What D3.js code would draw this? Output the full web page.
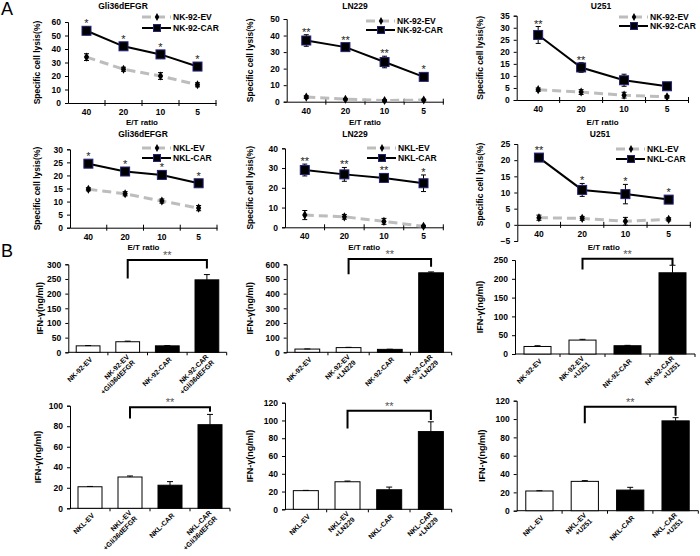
<!DOCTYPE html>
<html>
<head>
<meta charset="utf-8">
<script src="https://cdn.jsdelivr.net/npm/d3@7"></script>
<style>
body { margin: 0; background: #fff; }
text { font-family: "Liberation Sans", Arial, sans-serif; }
</style>
</head>
<body>
<div id="chart"></div>
<script>
// ---------------------- data : cytotoxicity (A) ----------------------
var ratios = ["40", "20", "10", "5"];

var gliNk92Ev = [34, 25, 20, 13.5],      gliNk92EvErr = [2.5, 1.5, 2.5, 1.5];
var gliNk92Car = [53.5, 42, 36, 27],     gliNk92CarErr = [3, 2, 2, 2];
var lnNk92Ev = [2.8, 1.5, 0.7, 1],       lnNk92EvErr = [0.8, 0.5, 0.5, 0.5];
var lnNk92Car = [37, 33, 24, 15],        lnNk92CarErr = [3.5, 1.5, 3.5, 1.5];
var uNk92Ev = [4.3, 3.3, 2, 1.3],        uNk92EvErr = [0.7, 1, 1.2, 0.5];
var uNk92Car = [27, 13.5, 8.2, 5.7],     uNk92CarErr = [3.5, 2, 2.5, 1];

var gliNklEv = [14.7, 13, 10.2, 7.5],    gliNklEvErr = [0.6, 0.8, 0.8, 1];
var gliNklCar = [24.5, 21.5, 20.2, 17],  gliNklCarErr = [1, 0.8, 1.5, 0.8];
var lnNklEv = [6.2, 5.3, 3, 0.5],        lnNklEvErr = [2.3, 1.2, 1.5, 0.5];
var lnNklCar = [29, 26.8, 25, 22.3],     lnNklCarErr = [3, 3.5, 2, 4.2];
var uNklEv = [2.2, 2, 1.1, 1.7],         uNklEvErr = [0.8, 0.6, 1.2, 0.5];
var uNklCar = [20.8, 10.8, 9.5, 7.8],    uNklCarErr = [0.5, 2, 3, 0.5];

var gliStars = ["*", "*", "*", "*"];
var lnStars = ["**", "**", "**", "*"];
var uNk92Stars = ["**", "**", "", ""];
var uNklStars = ["**", "*", "*", "*"];

// ---------------------- data : IFN-gamma (B) ----------------------
var nk92Gli = [22, 36, 22, 247],        nk92GliErr = [1, 2, 1, 18];
var nk92Ln = [22, 32, 20, 542],         nk92LnErr = [1, 2, 1, 6];
var nk92U = [20, 37, 22, 216],          nk92UErr = [2, 2, 1, 20];
var nklGli = [21, 30.5, 22.5, 81.5],    nklGliErr = [0.3, 1, 3.5, 10];
var nklLn = [21, 31, 22, 87.5],         nklLnErr = [0.3, 0.8, 3, 11];
var nklU = [21.5, 32, 22.5, 98],        nklUErr = [0.3, 0.8, 3, 3.5];

var nk92GliLabels = ["NK-92-EV", "NK-92-EV\n+Gli36dEFGR", "NK-92-CAR", "NK-92-CAR\n+Gli36dEFGR"];
var nk92LnLabels = ["NK-92-EV", "NK-92-EV\n+LN229", "NK-92-CAR", "NK-92-CAR\n+LN229"];
var nk92ULabels = ["NK-92-EV", "NK-92-EV\n+U251", "NK-92-CAR", "NK-92-CAR\n+U251"];
var nklGliLabels = ["NKL-EV", "NKL-EV\n+Gli36dEFGR", "NKL-CAR", "NKL-CAR\n+Gli36dEFGR"];
var nklLnLabels = ["NKL-EV", "NKL-EV\n+LN229", "NKL-CAR", "NKL-CAR\n+LN229"];
var nklULabels = ["NKL-EV", "NKL-EV\n+U251", "NKL-CAR", "NKL-CAR\n+U251"];

// bracket: [top, left leg end, right leg end] in data units
var nk92GliBracket = [315, 252, 286];
var nk92LnBracket = [636, 532, 584];
var nk92UBracket = [253, 225, 237];
var nklGliBracket = [98.4, 87.6, 94];
var nklLnBracket = [111, 91, 100.4];
var nklUBracket = [113.5, 95.3, 103.6];

// ---------------------- svg ----------------------
var svg = d3.select("#chart")
     .append("svg")
     .attr("width", 700)
     .attr("height", 556);

svg.append("rect").attr("width", 700).attr("height", 556).attr("fill", "#fff");

function styleAxis(a, fs) {
  a.select(".domain").attr("stroke", "#000").attr("stroke-width", 1);
  a.selectAll(".tick line").attr("stroke", "#000").attr("stroke-width", 1);
  a.selectAll(".tick text")
     .attr("fill", "#000")
     .style("font-size", fs + "px")
     .style("font-weight", "bold");
}

// ---------------------- line panels ----------------------
var linePanels = [
  {x0: 68, x1: 216, yTop: 22, yBot: 103, domain: [0, 60], step: 10, title: "Gli36dEFGR", tx: 123, ty: 9,
   ev: gliNk92Ev, evErr: gliNk92EvErr, car: gliNk92Car, carErr: gliNk92CarErr, stars: gliStars,
   legX: 173, legY: [17, 28], names: ["NK-92-EV", "NK-92-CAR"], etY: 125, ylabX: 37},
  {x0: 286.7, x1: 443.3, yTop: 19, yBot: 101.7, domain: [0, 50], step: 10, title: "LN229", tx: 355, ty: 9,
   ev: lnNk92Ev, evErr: lnNk92EvErr, car: lnNk92Car, carErr: lnNk92CarErr, stars: lnStars,
   legX: 397, legY: [21, 30], names: ["NK-92-EV", "NK-92-CAR"], etY: 125, ylabX: 250},
  {x0: 516.7, x1: 688.5, yTop: 15.7, yBot: 100, domain: [0, 35], step: 5, title: "U251", tx: 601, ty: 9,
   ev: uNk92Ev, evErr: uNk92EvErr, car: uNk92Car, carErr: uNk92CarErr, stars: uNk92Stars,
   legX: 650, legY: [17, 26], names: ["NK-92-EV", "NK-92-CAR"], etY: 125, ylabX: 480},
  {x0: 70, x1: 217, yTop: 149.3, yBot: 227.7, domain: [0, 30], step: 5, title: "Gli36dEFGR", tx: 143, ty: 136.5,
   ev: gliNklEv, evErr: gliNklEvErr, car: gliNklCar, carErr: gliNklCarErr, stars: gliStars,
   legX: 173, legY: [148, 158], names: ["NKL-EV", "NKL-CAR"], etY: 250, ylabX: 37},
  {x0: 285, x1: 443.3, yTop: 148.3, yBot: 227.3, domain: [0, 40], step: 10, title: "LN229", tx: 355, ty: 136.5,
   ev: lnNklEv, evErr: lnNklEvErr, car: lnNklCar, carErr: lnNklCarErr, stars: lnStars,
   legX: 398, legY: [148, 158], names: ["NKL-EV", "NKL-CAR"], etY: 250, ylabX: 250},
  {x0: 517.3, x1: 690.3, yTop: 144, yBot: 241, domain: [-5, 25], step: 5, title: "U251", tx: 600, ty: 136.5,
   ev: uNklEv, evErr: uNklEvErr, car: uNklCar, carErr: uNklCarErr, stars: uNklStars,
   legX: 647, legY: [149, 159], names: ["NKL-EV", "NKL-CAR"], etY: 250, ylabX: 480}
];

function errorBars(g, vals, errs, cx, y, cap) {
  g.selectAll(null).data(vals).enter().append("path")
     .attr("d", function (d, i) {
       var a = y(d - errs[i]), b = y(d + errs[i]), c = cx(i);
       return "M" + c + "," + a + "V" + b +
              "M" + (c - cap) + "," + a + "H" + (c + cap) +
              "M" + (c - cap) + "," + b + "H" + (c + cap);
     })
     .attr("stroke", "#000").attr("stroke-width", 1).attr("fill", "none");
}

function drawLinePanel(p) {
  var x = d3.scaleBand().domain(ratios).range([p.x0, p.x1]);
  var y = d3.scaleLinear().domain(p.domain).range([p.yBot, p.yTop]);
  var cx = function (i) { return x(ratios[i]) + x.bandwidth() / 2; };
  var g = svg.append("g");

  var ya = g.append("g")
     .attr("transform", "translate(" + p.x0 + ",0)")
     .call(d3.axisLeft(y)
       .tickValues(d3.range(p.domain[0], p.domain[1] + 0.01, p.step))
       .tickSize(3).tickPadding(4));
  styleAxis(ya, 8.5);

  var xa = g.append("g")
     .attr("transform", "translate(0," + y(0) + ")")
     .call(d3.axisBottom(x).tickSize(0).tickPadding(6));
  styleAxis(xa, 8.5);
  xa.selectAll(".edge").data(ratios).enter().append("line")
     .attr("x1", function (d) { return x(d) + x.bandwidth(); })
     .attr("x2", function (d) { return x(d) + x.bandwidth(); })
     .attr("y1", -3).attr("y2", 3)
     .attr("stroke", "#000");

  // titles
  g.append("text").text(p.title)
     .attr("x", p.tx).attr("y", p.ty)
     .attr("text-anchor", "middle")
     .style("font-size", "8.5px").style("font-weight", "bold");
  g.append("text").text("E/T ratio")
     .attr("x", (p.x0 + p.x1) / 2).attr("y", p.etY)
     .attr("text-anchor", "middle")
     .style("font-size", "8px").style("font-weight", "bold");
  g.append("text").text("Specific cell lysis(%)")
     .attr("transform", "translate(" + p.ylabX + "," + ((p.yTop + y(0)) / 2) + ") rotate(-90)")
     .attr("dy", "0.35em")
     .attr("text-anchor", "middle")
     .style("font-size", "8.5px").style("font-weight", "bold");

  var line = d3.line().x(function (d, i) { return cx(i); }).y(function (d) { return y(d); });

  // EV series
  g.append("path").datum(p.ev).attr("d", line)
     .attr("fill", "none").attr("stroke", "#bdbdbd")
     .attr("stroke-width", 3).attr("stroke-dasharray", "9,5");
  errorBars(g, p.ev, p.evErr, cx, y, 2.5);
  g.selectAll(null).data(p.ev).enter().append("path")
     .attr("d", d3.symbol(d3.symbolDiamond, 24))
     .attr("transform", function (d, i) { return "translate(" + cx(i) + "," + y(d) + ")"; })
     .attr("fill", "#000");

  // CAR series
  g.append("path").datum(p.car).attr("d", line)
     .attr("fill", "none").attr("stroke", "#000").attr("stroke-width", 2);
  errorBars(g, p.car, p.carErr, cx, y, 2.5);
  g.selectAll(null).data(p.car).enter().append("rect")
     .attr("x", function (d, i) { return cx(i) - 4.5; })
     .attr("y", function (d) { return y(d) - 4.5; })
     .attr("width", 9).attr("height", 9)
     .attr("fill", "#000").attr("stroke", "#23237a").attr("stroke-width", 1);

  // significance
  g.selectAll(null).data(p.stars).enter().append("text")
     .text(function (d) { return d; })
     .attr("x", function (d, i) { return cx(i); })
     .attr("y", function (d, i) {
       return Math.min(y(p.car[i] + p.carErr[i]), y(p.car[i]) - 4.5) + 1;
     })
     .attr("text-anchor", "middle")
     .style("font-size", "11px").attr("fill", "#222");

  // legend
  var lx = p.legX;
  [0, 1].forEach(function (k) {
    var ly = p.legY[k];
    g.append("line")
       .attr("x1", lx - 31).attr("x2", lx - 2).attr("y1", ly).attr("y2", ly)
       .attr("stroke", k === 0 ? "#bdbdbd" : "#000")
       .attr("stroke-width", k === 0 ? 3 : 2)
       .attr("stroke-dasharray", k === 0 ? "9,5" : null);
    if (k === 0) {
      g.append("path").attr("d", d3.symbol(d3.symbolDiamond, 18))
         .attr("transform", "translate(" + (lx - 16) + "," + ly + ")").attr("fill", "#000");
    } else {
      g.append("rect").attr("x", lx - 19.5).attr("y", ly - 3.5).attr("width", 7).attr("height", 7)
         .attr("fill", "#000").attr("stroke", "#23237a");
    }
    g.append("text").text(p.names[k])
       .attr("x", lx).attr("y", ly + 3)
       .style("font-size", "8.5px").style("font-weight", "bold");
  });
}

linePanels.forEach(drawLinePanel);

// ---------------------- bar panels ----------------------
var barPanels = [
  {x0: 68.3, x1: 226.7, yTop: 264.3, yBot: 352.3, domain: [0, 300], step: 50, vals: nk92Gli, errs: nk92GliErr,
   labels: nk92GliLabels, bracket: nk92GliBracket, ylabX: 40},
  {x0: 286.7, x1: 451.7, yTop: 264.3, yBot: 352.3, domain: [0, 600], step: 100, vals: nk92Ln, errs: nk92LnErr,
   labels: nk92LnLabels, bracket: nk92LnBracket, ylabX: 250},
  {x0: 515, x1: 695, yTop: 260, yBot: 354, domain: [0, 250], step: 50, vals: nk92U, errs: nk92UErr,
   labels: nk92ULabels, bracket: nk92UBracket, ylabX: 480},
  {x0: 70, x1: 230, yTop: 405.7, yBot: 508.3, domain: [0, 100], step: 20, vals: nklGli, errs: nklGliErr,
   labels: nklGliLabels, bracket: nklGliBracket, ylabX: 38},
  {x0: 285, x1: 451.7, yTop: 402.7, yBot: 509.3, domain: [0, 120], step: 20, vals: nklLn, errs: nklLnErr,
   labels: nklLnLabels, bracket: nklLnBracket, ylabX: 250},
  {x0: 516.7, x1: 698.3, yTop: 400.7, yBot: 510.7, domain: [0, 120], step: 20, vals: nklU, errs: nklUErr,
   labels: nklULabels, bracket: nklUBracket, ylabX: 482}
];

function drawBarPanel(p) {
  var idx = d3.range(p.vals.length);
  var x = d3.scaleBand().domain(idx).range([p.x0, p.x1]);
  var y = d3.scaleLinear().domain(p.domain).range([p.yBot, p.yTop]);
  var cx = function (i) { return x(i) + x.bandwidth() / 2; };
  var bw = x.bandwidth() * 0.6;
  var g = svg.append("g");

  var ya = g.append("g")
     .attr("transform", "translate(" + p.x0 + ",0)")
     .call(d3.axisLeft(y)
       .tickValues(d3.range(p.domain[0], p.domain[1] + 0.01, p.step))
       .tickSize(3).tickPadding(4));
  styleAxis(ya, 8.5);

  g.append("line")
     .attr("x1", p.x0).attr("x2", p.x1).attr("y1", y(0)).attr("y2", y(0))
     .attr("stroke", "#000");
  g.selectAll(null).data(idx).enter().append("line")
     .attr("x1", function (i) { return x(i) + x.bandwidth(); })
     .attr("x2", function (i) { return x(i) + x.bandwidth(); })
     .attr("y1", y(0)).attr("y2", y(0) + 3)
     .attr("stroke", "#000");

  g.selectAll(null).data(p.vals).enter().append("rect")
     .attr("x", function (d, i) { return cx(i) - bw / 2; })
     .attr("y", function (d) { return y(d); })
     .attr("width", bw)
     .attr("height", function (d) { return y(0) - y(d); })
     .attr("fill", function (d, i) { return i < 2 ? "#fff" : "#000"; })
     .attr("stroke", "#000").attr("stroke-width", 1);

  // error bars (upper only)
  g.selectAll(null).data(p.vals).enter().append("path")
     .attr("d", function (d, i) {
       var a = y(d), b = y(d + p.errs[i]), c = cx(i);
       return "M" + c + "," + a + "V" + b + "M" + (c - 3) + "," + b + "H" + (c + 3);
     })
     .attr("stroke", "#000").attr("stroke-width", 1).attr("fill", "none");

  // bracket
  var bl = cx(1), br = cx(3);
  g.append("path")
     .attr("d", "M" + bl + "," + y(p.bracket[1]) + "V" + y(p.bracket[0]) +
                "H" + br + "V" + y(p.bracket[2]))
     .attr("fill", "none").attr("stroke", "#000").attr("stroke-width", 2);
  g.append("text").text("**")
     .attr("x", (bl + br) / 2).attr("y", y(p.bracket[0]) - 1)
     .attr("text-anchor", "middle")
     .style("font-size", "11px").attr("fill", "#555");

  // y title
  g.append("text").text("IFN-γ(ng/ml)")
     .attr("transform", "translate(" + p.ylabX + "," + ((p.yTop + p.yBot) / 2) + ") rotate(-90)")
     .attr("dy", "0.35em")
     .attr("text-anchor", "middle")
     .style("font-size", "9px").style("font-weight", "bold");

  // rotated category labels
  p.labels.forEach(function (lab, i) {
    var lines = lab.split("\n");
    var t = g.append("text")
       .attr("transform", "translate(" + (cx(i) + 3) + "," + (y(0) + 6) + ") rotate(-45)")
       .attr("text-anchor", "end")
       .style("font-size", "7px").style("font-weight", "bold");
    lines.forEach(function (s, k) {
      t.append("tspan").text(s)
         .attr("x", 0)
         .attr("y", 0)
         .attr("dy", (lines.length === 1 ? 0.35 : (k === 0 ? -0.2 : 0.95)) + "em");
    });
  });
}

barPanels.forEach(drawBarPanel);

// ---------------------- panel letters ----------------------
svg.append("text").text("A").attr("x", 1).attr("y", 15).style("font-size", "18px");
svg.append("text").text("B").attr("x", 1).attr("y", 257).style("font-size", "18px");
</script>
</body>
</html>
